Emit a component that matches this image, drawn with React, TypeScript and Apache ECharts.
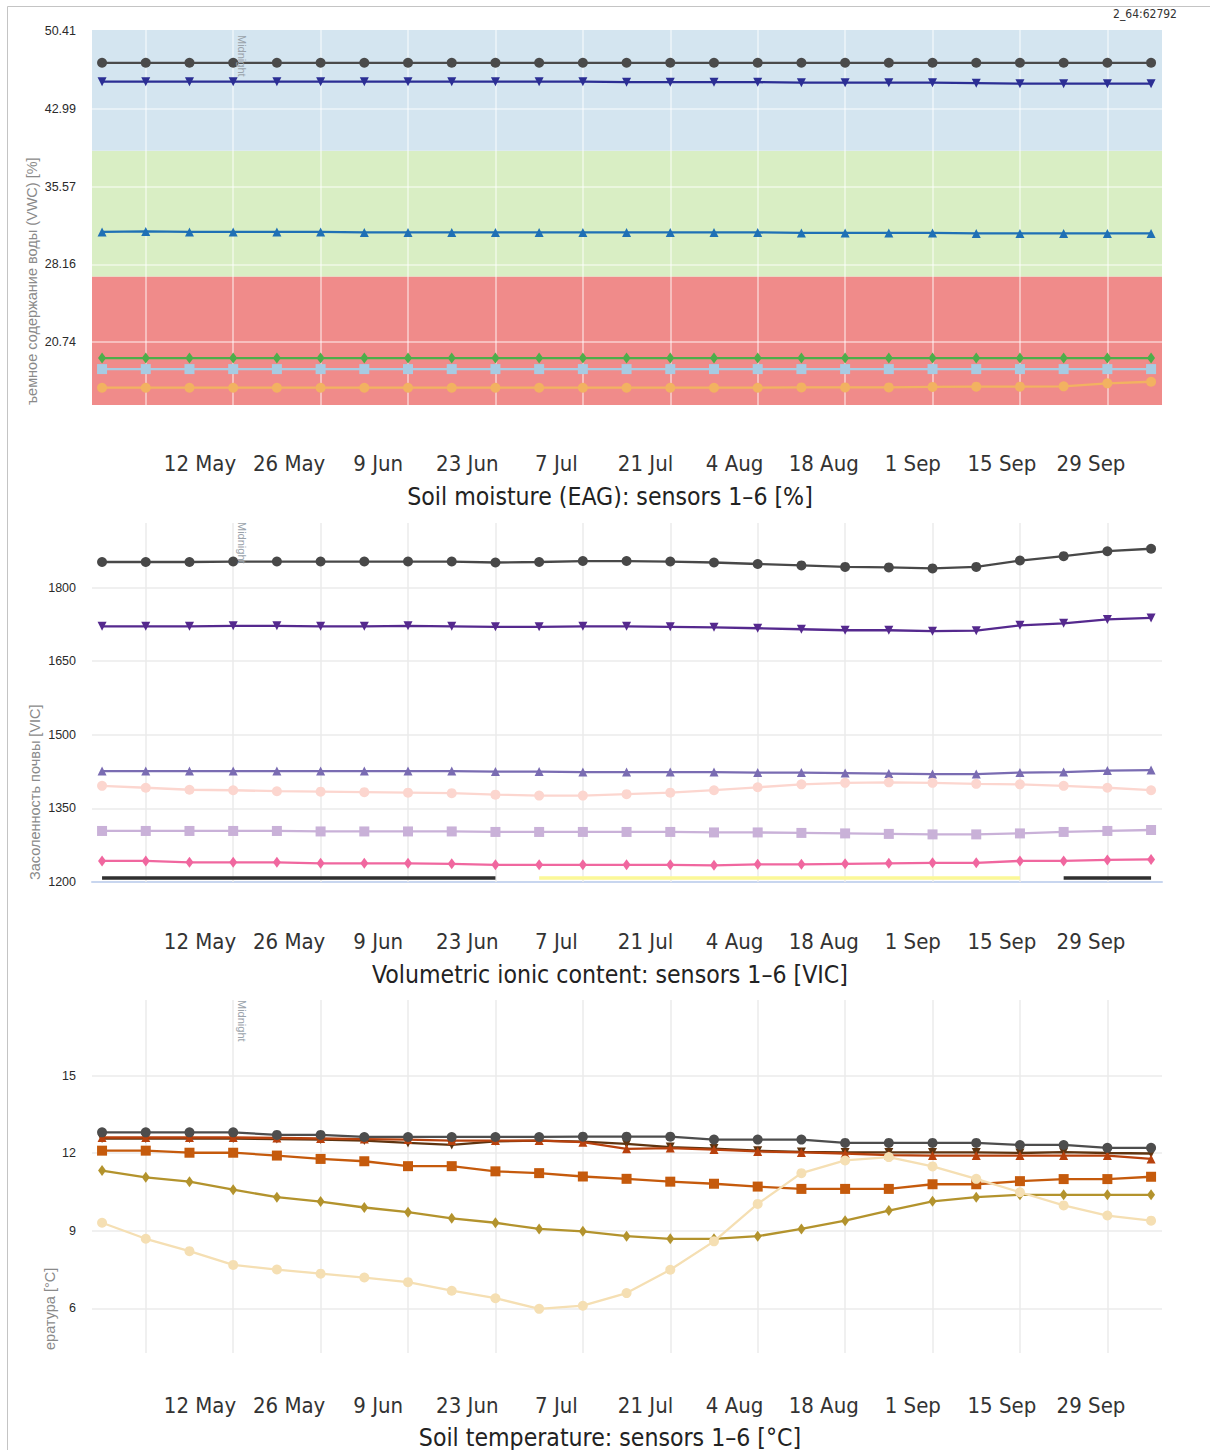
import React, { useEffect, useRef } from "react";
import * as echarts from "echarts";

// ---------- shared x data ----------
const weekIndex = [0, 1, 2, 3, 4, 5, 6, 7, 8, 9, 10, 11, 12, 13, 14, 15, 16, 17, 18, 19, 20, 21, 22, 23, 24];
const gridWeeks = [1, 3, 5, 7, 9, 11, 13, 15, 17, 19, 21, 23];
const dateLabels = ["12 May", "26 May", "9 Jun", "23 Jun", "7 Jul", "21 Jul", "4 Aug", "18 Aug", "1 Sep", "15 Sep", "29 Sep"];

// ---------- chart 1: soil moisture ----------
const vwcTicks = [20.74, 28.16, 35.57, 42.99, 50.41];
const vwcBandEdges = [14.72, 27.0, 39.0, 50.53];
const vwc1 = [47.4, 47.4, 47.4, 47.4, 47.4, 47.4, 47.4, 47.4, 47.4, 47.4, 47.4, 47.4, 47.4, 47.4, 47.4, 47.4, 47.4, 47.4, 47.4, 47.4, 47.4, 47.4, 47.4, 47.4, 47.4];
const vwc2 = [45.6, 45.6, 45.6, 45.6, 45.6, 45.6, 45.6, 45.6, 45.6, 45.6, 45.6, 45.6, 45.55, 45.55, 45.55, 45.55, 45.5, 45.5, 45.5, 45.5, 45.45, 45.4, 45.4, 45.4, 45.4];
const vwc3 = [31.25, 31.3, 31.25, 31.25, 31.25, 31.25, 31.2, 31.2, 31.2, 31.2, 31.2, 31.2, 31.2, 31.2, 31.2, 31.2, 31.15, 31.15, 31.15, 31.15, 31.1, 31.1, 31.1, 31.1, 31.1];
const vwc4 = [19.2, 19.2, 19.2, 19.2, 19.2, 19.2, 19.2, 19.2, 19.2, 19.2, 19.2, 19.2, 19.2, 19.2, 19.2, 19.2, 19.2, 19.2, 19.2, 19.2, 19.2, 19.2, 19.2, 19.2, 19.2];
const vwc5 = [18.15, 18.15, 18.15, 18.15, 18.15, 18.15, 18.15, 18.15, 18.15, 18.15, 18.15, 18.15, 18.15, 18.15, 18.15, 18.15, 18.15, 18.15, 18.15, 18.15, 18.15, 18.15, 18.15, 18.15, 18.15];
const vwc6 = [16.37, 16.37, 16.37, 16.37, 16.37, 16.37, 16.37, 16.37, 16.37, 16.37, 16.37, 16.37, 16.37, 16.37, 16.37, 16.37, 16.4, 16.4, 16.4, 16.45, 16.47, 16.47, 16.5, 16.79, 16.94];

// ---------- chart 2: volumetric ionic content ----------
const vicTicks = [1200, 1350, 1500, 1650, 1800];
const vicGrid = [1350, 1500, 1650, 1800];
const vic1 = [1852, 1852, 1852, 1853, 1853, 1853, 1853, 1853, 1853, 1851, 1852, 1854, 1854, 1853, 1851, 1848, 1845, 1842, 1841, 1839, 1842, 1855, 1864, 1874, 1879];
const vic2 = [1721, 1721, 1721, 1722, 1722, 1721, 1721, 1722, 1721, 1720, 1720, 1721, 1721, 1720, 1719, 1717, 1715, 1713, 1713, 1711, 1712, 1723, 1727, 1735, 1738];
const vic3 = [1426, 1426, 1426, 1426, 1426, 1426, 1426, 1426, 1426, 1425, 1425, 1424, 1424, 1424, 1424, 1423, 1423, 1422, 1421, 1420, 1420, 1423, 1424, 1427, 1428];
const vic4 = [1396, 1392, 1388, 1387, 1385, 1384, 1383, 1382, 1381, 1378, 1376, 1376, 1379, 1382, 1387, 1393, 1399, 1402, 1403, 1402, 1400, 1399, 1396, 1392, 1387];
const vic5 = [1304, 1304, 1304, 1304, 1304, 1303, 1303, 1303, 1303, 1302, 1302, 1302, 1302, 1302, 1301, 1301, 1300, 1299, 1298, 1297, 1297, 1299, 1302, 1304, 1306];
const vic6 = [1243, 1243, 1240, 1240, 1240, 1238, 1238, 1238, 1237, 1235, 1235, 1235, 1235, 1235, 1234, 1236, 1236, 1237, 1238, 1239, 1239, 1243, 1243, 1245, 1246];
const vicStrip = ["night", "night", "night", "night", "night", "night", "night", "night", "night", "night", "day", "day", "day", "day", "day", "day", "day", "day", "day", "day", "day", "day", "night", "night", "night"];
const vicStripLevel = 1208;

// ---------- chart 3: soil temperature ----------
const tempTicks = [6, 9, 12, 15];
const temp1 = [12.81, 12.81, 12.81, 12.81, 12.71, 12.71, 12.63, 12.63, 12.63, 12.63, 12.63, 12.64, 12.64, 12.64, 12.53, 12.53, 12.53, 12.4, 12.4, 12.4, 12.4, 12.32, 12.32, 12.21, 12.21];
const temp2 = [12.57, 12.57, 12.57, 12.57, 12.55, 12.53, 12.49, 12.4, 12.32, 12.46, 12.49, 12.45, 12.36, 12.24, 12.18, 12.1, 12.05, 12.03, 12.03, 12.03, 12.03, 12.01, 12.04, 12.01, 11.99];
const temp3 = [12.61, 12.61, 12.61, 12.61, 12.59, 12.57, 12.55, 12.53, 12.49, 12.49, 12.49, 12.43, 12.17, 12.2, 12.14, 12.07, 12.03, 11.99, 11.93, 11.91, 11.91, 11.91, 11.91, 11.91, 11.78];
const temp4 = [12.1, 12.1, 12.02, 12.02, 11.91, 11.78, 11.69, 11.5, 11.5, 11.3, 11.23, 11.1, 11.01, 10.9, 10.82, 10.71, 10.62, 10.62, 10.62, 10.8, 10.8, 10.92, 11.0, 11.0, 11.09];
const temp5 = [11.33, 11.07, 10.9, 10.59, 10.3, 10.13, 9.9, 9.72, 9.48, 9.31, 9.07, 8.98, 8.79, 8.69, 8.69, 8.79, 9.07, 9.39, 9.78, 10.14, 10.3, 10.39, 10.39, 10.39, 10.39];
const temp6 = [9.31, 8.69, 8.21, 7.68, 7.5, 7.34, 7.19, 7.01, 6.68, 6.39, 5.98, 6.1, 6.59, 7.49, 8.59, 10.04, 11.23, 11.72, 11.85, 11.49, 11.01, 10.49, 9.98, 9.59, 9.39];

const COND = "'DejaVu Sans Condensed', 'DejaVu Sans', sans-serif";
const SANS = "'Liberation Sans', Arial, sans-serif";

type SDef = { name: string; data: number[]; color: string; symbol: string; size: any; rotate?: number; width?: number };

function pairs(vals: (number | null)[]) {
  return vals.map((v, i) => [weekIndex[i], v]);
}

function mkSeries(defs: SDef[], axis: number, extra: any) {
  return defs.map((d, k) => ({
    type: "line",
    name: d.name,
    xAxisIndex: axis,
    yAxisIndex: axis,
    data: pairs(d.data),
    symbol: d.symbol,
    symbolSize: d.size,
    symbolRotate: d.rotate || 0,
    showSymbol: true,
    z: 10 + k,
    lineStyle: { color: d.color, width: d.width || 2.3 },
    itemStyle: { color: d.color },
    emphasis: { disabled: true },
    ...(k === 0 ? extra : {}),
  }));
}

function gridMarkLine(color: string, width: number, yVals: number[]) {
  return {
    silent: true,
    symbol: ["none", "none"],
    label: { show: false },
    lineStyle: { color, width, type: "solid" },
    emphasis: { disabled: true },
    data: [...gridWeeks.map((w) => ({ xAxis: w })), ...yVals.map((v) => ({ yAxis: v }))],
  };
}

export default function App() {
  const ref = useRef<HTMLDivElement>(null);
  useEffect(() => {
    if (!ref.current) return;
    const chart = echarts.init(ref.current, null, { renderer: "svg" });

    const dataGrids = [
      { left: 92, top: 30, width: 1070, height: 375 },
      { left: 92, top: 523, width: 1070, height: 359 },
      { left: 92, top: 1000, width: 1070, height: 353 },
    ];
    const labelCenters = [463, 941, 1405];
    const labelGrids = labelCenters.map((c) => ({ left: 200, top: c - 14, width: 891, height: 1 }));

    const yRanges = [
      { min: 14.72, max: 50.53, ticks: vwcTicks },
      { min: 1200, max: 1931.5, ticks: vicTicks },
      { min: 4.27, max: 17.93, ticks: tempTicks },
    ];

    const xAxes: any[] = [];
    const yAxes: any[] = [];
    for (let i = 0; i < 3; i++) {
      xAxes.push({
        type: "value",
        gridIndex: i,
        min: -0.23,
        max: 24.25,
        axisLabel: { show: false },
        axisTick: { show: false },
        splitLine: { show: false },
        axisLine: { show: i === 1, onZero: false, lineStyle: { color: "#c8d6ef", width: 2 } },
      });
      yAxes.push({
        type: "value",
        gridIndex: i,
        min: yRanges[i].min,
        max: yRanges[i].max,
        axisLine: { show: false },
        axisTick: { show: false, customValues: yRanges[i].ticks },
        splitLine: { show: false },
        axisLabel: {
          customValues: yRanges[i].ticks,
          formatter: (v: number) => String(v),
          color: "#2a2a2a",
          fontSize: 12.5,
          fontFamily: SANS,
          margin: 16,
        },
      });
    }
    for (let i = 0; i < 3; i++) {
      xAxes.push({
        type: "category",
        gridIndex: 3 + i,
        boundaryGap: false,
        data: dateLabels,
        axisLine: { show: false },
        axisTick: { show: false },
        splitLine: { show: false },
        axisLabel: { interval: 0, margin: 2, fontSize: 22, lineHeight: 22, color: "#333", fontFamily: COND },
      });
      yAxes.push({ type: "value", gridIndex: 3 + i, show: false });
    }

    const vwcDefs: SDef[] = [
      { name: "Sensor 1", data: vwc1, color: "#4a4a4a", symbol: "circle", size: 10 },
      { name: "Sensor 2", data: vwc2, color: "#2b2e94", symbol: "triangle", size: 9, rotate: 180 },
      { name: "Sensor 3", data: vwc3, color: "#1f70b5", symbol: "triangle", size: 9 },
      { name: "Sensor 4", data: vwc4, color: "#4cae4a", symbol: "diamond", size: [8, 11] },
      { name: "Sensor 5", data: vwc5, color: "#a8cbe2", symbol: "rect", size: 10 },
      { name: "Sensor 6", data: vwc6, color: "#f2b261", symbol: "circle", size: 10 },
    ];
    const vicDefs: SDef[] = [
      { name: "Sensor 1", data: vic1, color: "#484848", symbol: "circle", size: 10 },
      { name: "Sensor 2", data: vic2, color: "#55298e", symbol: "triangle", size: 9, rotate: 180 },
      { name: "Sensor 3", data: vic3, color: "#7a6cb2", symbol: "triangle", size: 9 },
      { name: "Sensor 4", data: vic4, color: "#fcd6cf", symbol: "circle", size: 10 },
      { name: "Sensor 5", data: vic5, color: "#c9b1d8", symbol: "rect", size: 10 },
      { name: "Sensor 6", data: vic6, color: "#f0679f", symbol: "diamond", size: [8, 11] },
    ];
    const tempDefs: SDef[] = [
      { name: "Sensor 2", data: temp2, color: "#5e3410", symbol: "triangle", size: 9, rotate: 180 },
      { name: "Sensor 3", data: temp3, color: "#b8410d", symbol: "triangle", size: 9 },
      { name: "Sensor 1", data: temp1, color: "#4d4d4d", symbol: "circle", size: 10 },
      { name: "Sensor 4", data: temp4, color: "#c55a0c", symbol: "rect", size: 10 },
      { name: "Sensor 5", data: temp5, color: "#b3932d", symbol: "diamond", size: [8, 11] },
      { name: "Sensor 6", data: temp6, color: "#f5dfb3", symbol: "circle", size: 10 },
    ];

    const bandColors = ["#f08b8a", "#d9eec4", "#d4e5f0"];
    const vwcExtra = {
      markArea: {
        silent: true,
        emphasis: { disabled: true },
        data: bandColors.map((c, k) => [
          { yAxis: vwcBandEdges[k], itemStyle: { color: c, opacity: 1, borderWidth: 0 } },
          { yAxis: vwcBandEdges[k + 1] },
        ]),
      },
      markLine: gridMarkLine("rgba(255,255,255,0.6)", 1.5, vwcTicks.slice(0, 4)),
    };
    const vicExtra = { markLine: gridMarkLine("#ebebeb", 1.5, vicGrid) };
    const tempExtra = { markLine: gridMarkLine("#ebebeb", 1.5, tempTicks) };

    const stripSeries = [
      { key: "night", color: "#303030" },
      { key: "day", color: "#fbf898" },
    ].map((s) => ({
      type: "line",
      name: "strip-" + s.key,
      xAxisIndex: 1,
      yAxisIndex: 1,
      data: pairs(vicStrip.map((v) => (v === s.key ? vicStripLevel : null))),
      showSymbol: false,
      symbol: "none",
      connectNulls: false,
      z: 9,
      lineStyle: { color: s.color, width: 3.5 },
      emphasis: { disabled: true },
    }));

    const series = [
      ...mkSeries(vwcDefs, 0, vwcExtra),
      ...mkSeries(vicDefs, 1, vicExtra),
      ...stripSeries,
      ...mkSeries(tempDefs, 2, tempExtra),
    ];

    const titles = [
      { text: "Soil moisture (EAG): sensors 1–6 [%]", y: 496 },
      { text: "Volumetric ionic content: sensors 1–6 [VIC]", y: 974 },
      { text: "Soil temperature: sensors 1–6 [°C]", y: 1437 },
    ];
    const yNames = [
      { text: "ъемное содержание воды (VWC) [%]", x: 32, y: 405 },
      { text: "Засоленность почвы [VIC]", x: 35, y: 880 },
      { text: "ература [°C]", x: 50, y: 1350 },
    ];
    const midnightTops = [35, 522, 1000];

    const graphic: any[] = [
      {
        type: "rect",
        silent: true,
        z: 100,
        shape: { x: 7.5, y: 6.5, width: 1240, height: 1480 },
        style: { fill: "none", stroke: "#c4c4c4", lineWidth: 1 },
      },
      {
        type: "text",
        x: 1177,
        y: 14,
        z: 100,
        silent: true,
        style: { text: "2_64:62792", fill: "#333", font: "12px " + COND, align: "right", verticalAlign: "middle" },
      },
      ...titles.map((t) => ({
        type: "text",
        x: 610,
        y: t.y,
        z: 100,
        silent: true,
        style: { text: t.text, fill: "#222", font: "24.6px " + COND, align: "center", verticalAlign: "middle" },
      })),
      ...yNames.map((t) => ({
        type: "text",
        x: t.x,
        y: t.y,
        z: 100,
        rotation: Math.PI / 2,
        silent: true,
        style: { text: t.text, fill: "#8a8a8a", font: "14.5px " + SANS, align: "left", verticalAlign: "middle" },
      })),
      ...midnightTops.map((y) => ({
        type: "text",
        x: 242,
        y,
        z: 100,
        rotation: -Math.PI / 2,
        silent: true,
        style: { text: "Midnight", fill: "#9aa3ab", font: "11px " + SANS, align: "left", verticalAlign: "middle" },
      })),
    ];

    chart.setOption({
      animation: false,
      backgroundColor: "#ffffff",
      grid: [...dataGrids, ...labelGrids],
      xAxis: xAxes,
      yAxis: yAxes,
      series,
      graphic,
    });
    return () => chart.dispose();
  }, []);

  return <div ref={ref} style={{ position: "absolute", left: 0, top: 0, width: 1210, height: 1450 }} />;
}
